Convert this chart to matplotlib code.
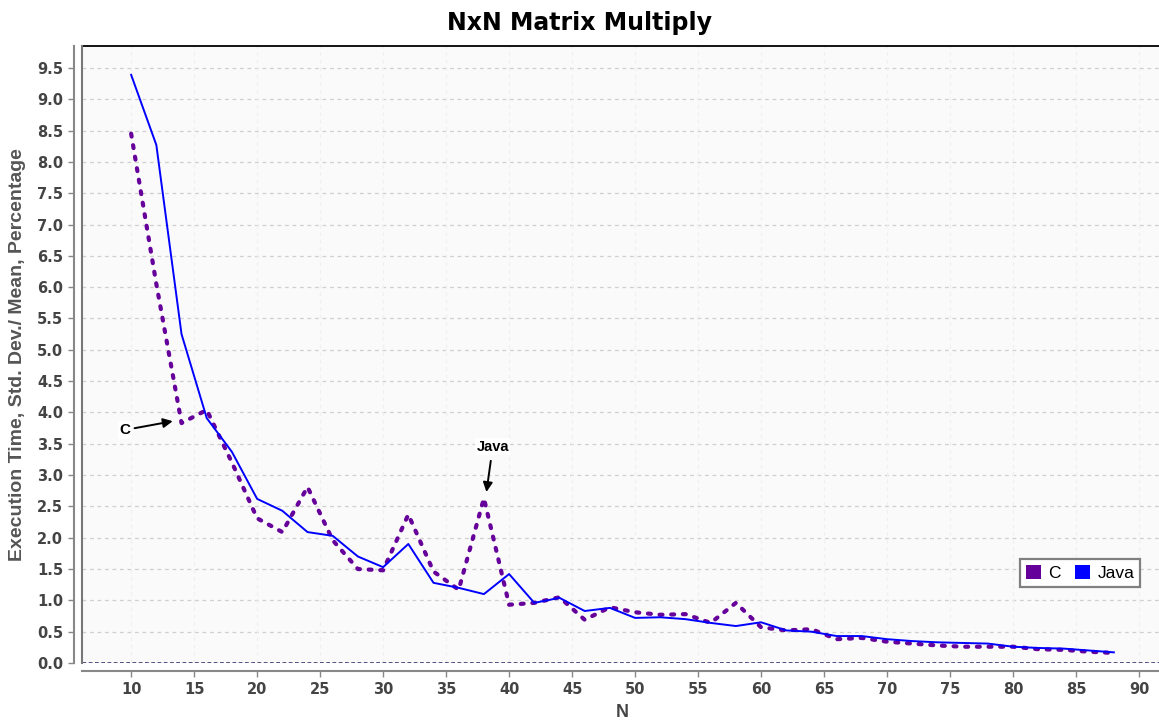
import matplotlib
matplotlib.use('Agg')
import matplotlib.pyplot as plt
from matplotlib.patches import Patch

# problem size N (step 2)
n_vals = list(range(10, 90, 2))

c_vals = [8.45, 6.05, 3.83, 4.04, 3.20,
          2.31, 2.09, 2.81, 1.96, 1.50,
          1.48, 2.37, 1.46, 1.17, 2.63,
          0.93, 0.96, 1.05, 0.69, 0.89,
          0.81, 0.77, 0.78, 0.64, 0.96,
          0.57, 0.52, 0.54, 0.38, 0.40,
          0.34, 0.31, 0.28, 0.26, 0.26,
          0.26, 0.22, 0.21, 0.18, 0.16]

java_vals = [9.39, 8.27, 5.25, 3.91, 3.37,
             2.62, 2.43, 2.09, 2.03, 1.70,
             1.53, 1.90, 1.28, 1.20, 1.10,
             1.42, 0.96, 1.04, 0.83, 0.88,
             0.72, 0.73, 0.70, 0.64, 0.59,
             0.65, 0.52, 0.50, 0.43, 0.43,
             0.38, 0.35, 0.33, 0.32, 0.31,
             0.26, 0.24, 0.23, 0.20, 0.17]

x_ticks = list(range(10, 95, 5))
y_ticks = [i * 0.5 for i in range(20)]

c_color = '#66009a'
java_color = '#0000ff'
tick_color = '#444444'

plt.rcParams['font.family'] = ['Liberation Sans', 'DejaVu Sans']

fig = plt.figure(figsize=(11.59, 7.21), dpi=100)
ax = fig.add_axes([82 / 1159, 58 / 721, 1081 / 1159, 617 / 721])
ax.set_facecolor('#fafafa')

ax.plot(n_vals, c_vals, color=c_color, lw=3.0, linestyle=(0, (0.7, 2.1)),
        dash_capstyle='round', zorder=3)
ax.plot(n_vals, java_vals, color=java_color, lw=1.4, zorder=4)

ax.set_xlim(6.1, 91.9)
ax.set_ylim(0, 9.85)

ax.set_xticks(x_ticks)
ax.set_yticks(y_ticks)
ax.set_yticklabels(['%.1f' % v for v in y_ticks])

for v in y_ticks[1:]:
    ax.axhline(v, color='#cfcfcf', lw=0.9, dashes=(3, 3), zorder=1)
for v in x_ticks:
    ax.axvline(v, color='#f0f0f0', lw=0.9, dashes=(3, 3), zorder=1)
ax.axhline(0, color='#202060', lw=1.8, dashes=(1.5, 1), zorder=2)

for s in ['top', 'right']:
    ax.spines[s].set_visible(False)
ax.spines['left'].set_position(('outward', 6))
ax.spines['bottom'].set_position(('outward', 6))
for s in ['left', 'bottom']:
    ax.spines[s].set_color('#888888')
    ax.spines[s].set_linewidth(1.5)

# plot area border: black top, gray left
ax.plot([0, 1], [1, 1], transform=ax.transAxes, color='black', lw=1.3, clip_on=False)
ax.plot([0, 0], [0, 1], transform=ax.transAxes, color='#777777', lw=1.5, clip_on=False)

ax.tick_params(axis='both', colors='#888888', length=4, width=1, labelcolor=tick_color,
               labelsize=10.5)
for lbl in ax.get_xticklabels() + ax.get_yticklabels():
    lbl.set_fontweight('bold')
    lbl.set_family('DejaVu Sans')

ax.set_xlabel('N', fontsize=13, fontweight='bold', color=tick_color, labelpad=5)
ax.set_ylabel('Execution Time, Std. Dev./ Mean, Percentage', fontsize=14,
              fontweight='bold', color='#555555', labelpad=8)

fig.suptitle('NxN Matrix Multiply', fontsize=17, fontweight='bold', y=0.985,
             family='DejaVu Sans')

ax.annotate('C', xy=(13.3, 3.86), xytext=(9.5, 3.72), fontsize=11, fontweight='bold',
            ha='center', va='center',
            bbox=dict(boxstyle='square,pad=0.1', fc='white', ec='none'),
            arrowprops=dict(arrowstyle='-|>', color='black', lw=1.4,
                            shrinkA=2, shrinkB=0, mutation_scale=14))
ax.annotate('Java', xy=(38.2, 2.73), xytext=(38.7, 3.45), fontsize=10.5, fontweight='bold',
            ha='center', va='center',
            bbox=dict(boxstyle='square,pad=0.1', fc='white', ec='none'),
            arrowprops=dict(arrowstyle='-|>', color='black', lw=1.4,
                            shrinkA=4, shrinkB=0, mutation_scale=14))

handles = [Patch(facecolor=c_color, edgecolor='none', label='C'),
           Patch(facecolor=java_color, edgecolor='none', label='Java')]
leg = ax.legend(handles=handles, loc='lower right', bbox_to_anchor=(0.979, 0.123),
                ncol=2, fontsize=12.5, frameon=True, fancybox=False, borderaxespad=0,
                handlelength=0.9, handleheight=0.9, handletextpad=0.4,
                columnspacing=0.8, borderpad=0.35)
leg.get_frame().set_edgecolor('#808080')
leg.get_frame().set_linewidth(1.6)
leg.get_frame().set_facecolor('white')
leg.get_frame().set_alpha(1)

fig.savefig('out.png', dpi=100, facecolor='white')
